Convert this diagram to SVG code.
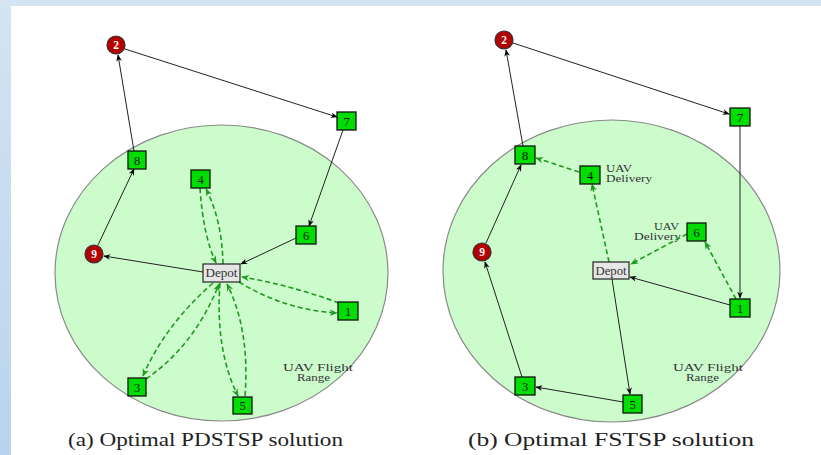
<svg xmlns="http://www.w3.org/2000/svg" width="821" height="455" viewBox="0 0 821 455">
<defs>
<linearGradient id="lb" x1="0" y1="0" x2="0" y2="1"><stop offset="0" stop-color="#d4e4f2"/><stop offset="1" stop-color="#b9d3ee"/></linearGradient>
<marker id="ab" viewBox="0 0 10 10" refX="9" refY="5" markerWidth="7" markerHeight="7" orient="auto" markerUnits="userSpaceOnUse"><path d="M0,1 L10,5 L0,9 L3,5 z" fill="#000"/></marker>
<marker id="ag" viewBox="0 0 10 10" refX="9" refY="5" markerWidth="8" markerHeight="8" orient="auto" markerUnits="userSpaceOnUse"><path d="M0,1 L10,5 L0,9 L3,5 z" fill="#1f9a1f"/></marker>
</defs>
<style>
.rng{fill:#ccfbcc;stroke:#8a8a8a;stroke-width:1.2}
.g rect{fill:#00dd00;stroke:#111;stroke-width:1.3}
.r circle{fill:#b30000;stroke:#333;stroke-width:1.2}
.dp rect{fill:#e6e6e6;stroke:#222;stroke-width:1.2}
.lbl{font-family:"Liberation Serif","DejaVu Serif",serif;font-size:12.5px;text-anchor:middle;fill:#111}
.wl{font-family:"Liberation Serif","DejaVu Serif",serif;font-size:11.5px;font-weight:bold;text-anchor:middle;fill:#fff}
.dt{font-family:"Liberation Serif","DejaVu Serif",serif;font-size:11.5px;fill:#333}
.ann{font-family:"Liberation Serif","DejaVu Serif",serif;font-size:9.5px;fill:#333}
.cap{font-family:"Liberation Serif","DejaVu Serif",serif;font-size:18px;fill:#222}
.e{fill:none;stroke:#222;stroke-width:1;marker-end:url(#ab)}
.d{fill:none;stroke:#1f9a1f;stroke-width:1.6;stroke-dasharray:5,3;marker-end:url(#ag)}
</style>
<rect x="0" y="0" width="821" height="455" fill="#fff"/>
<rect x="0" y="0" width="821" height="6" fill="#d4e4f2"/>
<rect x="0" y="0" width="11" height="455" fill="url(#lb)"/>

<ellipse class="rng" cx="221.5" cy="273" rx="166.5" ry="148"/>
<ellipse class="rng" cx="611.5" cy="271" rx="168.5" ry="151"/>
<text class="ann" x="283" y="371" textLength="70" lengthAdjust="spacingAndGlyphs">UAV Flight</text>
<text class="ann" x="297" y="381" textLength="33" lengthAdjust="spacingAndGlyphs">Range</text>
<text class="ann" x="673" y="371" textLength="70" lengthAdjust="spacingAndGlyphs">UAV Flight</text>
<text class="ann" x="686" y="381" textLength="33" lengthAdjust="spacingAndGlyphs">Range</text>
<text class="ann" x="606" y="172" textLength="26" lengthAdjust="spacingAndGlyphs">UAV</text>
<text class="ann" x="606" y="182" textLength="46" lengthAdjust="spacingAndGlyphs">Delivery</text>
<text class="ann" x="654" y="230" textLength="25" lengthAdjust="spacingAndGlyphs">UAV</text>
<text class="ann" x="634" y="240" textLength="47" lengthAdjust="spacingAndGlyphs">Delivery</text>

<g id="connectors">
<path class="e" d="M134,151 L118,55"/>
<path class="e" d="M125,49 L337,117"/>
<path class="e" d="M343,130 L309,226"/>
<path class="e" d="M296,238 L241,264"/>
<path class="e" d="M203,272 L104,256"/>
<path class="e" d="M98,245 L134,169"/>
<path class="d" d="M200,188 Q203,235 216,263"/>
<path class="d" d="M223,264 Q222,220 206,189"/>
<path class="d" d="M339,303 Q290,285 242,277"/>
<path class="d" d="M239,282 Q285,310 337,313"/>
<path class="d" d="M213,283 Q165,325 143,376"/>
<path class="d" d="M146,379 Q195,345 219,284"/>
<path class="d" d="M220,283 Q215,350 238,396"/>
<path class="d" d="M245,396 Q250,330 227,284"/>

<path class="e" d="M523,146 L506,50"/>
<path class="e" d="M513,43 L729,114"/>
<path class="e" d="M740,126 L740,298"/>
<path class="e" d="M730,305 L630,277"/>
<path class="e" d="M612,279 L630,394"/>
<path class="e" d="M623,402 L536,387"/>
<path class="e" d="M522,377 L485,262"/>
<path class="e" d="M486,243 L521,165"/>
<path class="d" d="M609,262 L592,184"/>
<path class="d" d="M579,172 L536,158"/>
<path class="d" d="M687,234 L631,264"/>
<path class="d" d="M736,299 L705,242"/>
</g>

<g id="a-n2" class="r"><circle cx="116" cy="45" r="9"/><text class="wl" x="116" y="49">2</text></g>
<g id="a-n7" class="g"><rect x="337" y="112" width="19" height="18"/><text class="lbl" x="346.5" y="125.5">7</text></g>
<g id="a-n8" class="g"><rect x="128" y="151" width="18" height="18"/><text class="lbl" x="137" y="164.5">8</text></g>
<g id="a-n4" class="g"><rect x="191" y="170" width="19" height="18"/><text class="lbl" x="200.5" y="183.5">4</text></g>
<g id="a-n6" class="g"><rect x="296" y="226" width="20" height="18"/><text class="lbl" x="306" y="239.5">6</text></g>
<g id="a-n9" class="r"><circle cx="94" cy="254" r="9"/><text class="wl" x="94" y="258">9</text></g>
<g id="a-depot" class="dp"><rect x="203" y="264" width="37" height="18"/><text class="dt" x="205.5" y="277" textLength="32" lengthAdjust="spacingAndGlyphs">Depot</text></g>
<g id="a-n1" class="g"><rect x="338" y="302" width="20" height="18"/><text class="lbl" x="348" y="315.5">1</text></g>
<g id="a-n3" class="g"><rect x="128" y="378" width="18" height="18"/><text class="lbl" x="137" y="391.5">3</text></g>
<g id="a-n5" class="g"><rect x="233" y="397" width="19" height="17"/><text class="lbl" x="242.5" y="410">5</text></g>

<g id="b-n2" class="r"><circle cx="504" cy="40" r="9"/><text class="wl" x="504" y="44">2</text></g>
<g id="b-n7" class="g"><rect x="730" y="108" width="20" height="18"/><text class="lbl" x="740" y="121.5">7</text></g>
<g id="b-n8" class="g"><rect x="515" y="146" width="20" height="18"/><text class="lbl" x="525" y="159.5">8</text></g>
<g id="b-n4" class="g"><rect x="580" y="166" width="20" height="18"/><text class="lbl" x="590" y="179.5">4</text></g>
<g id="b-n6" class="g"><rect x="687" y="223" width="19" height="18"/><text class="lbl" x="696.5" y="236.5">6</text></g>
<g id="b-n9" class="r"><circle cx="482" cy="252" r="9"/><text class="wl" x="482" y="256">9</text></g>
<g id="b-depot" class="dp"><rect x="593" y="262" width="36" height="17"/><text class="dt" x="595.5" y="274.5" textLength="31" lengthAdjust="spacingAndGlyphs">Depot</text></g>
<g id="b-n1" class="g"><rect x="730" y="299" width="20" height="18"/><text class="lbl" x="740" y="312.5">1</text></g>
<g id="b-n3" class="g"><rect x="515" y="377" width="20" height="18"/><text class="lbl" x="525" y="390.5">3</text></g>
<g id="b-n5" class="g"><rect x="623" y="395" width="19" height="18"/><text class="lbl" x="632.5" y="408.5">5</text></g>

<text class="cap" x="68" y="446" textLength="275" lengthAdjust="spacingAndGlyphs">(a) Optimal PDSTSP solution</text>
<text class="cap" x="468" y="446" textLength="286" lengthAdjust="spacingAndGlyphs">(b) Optimal FSTSP solution</text>
</svg>
